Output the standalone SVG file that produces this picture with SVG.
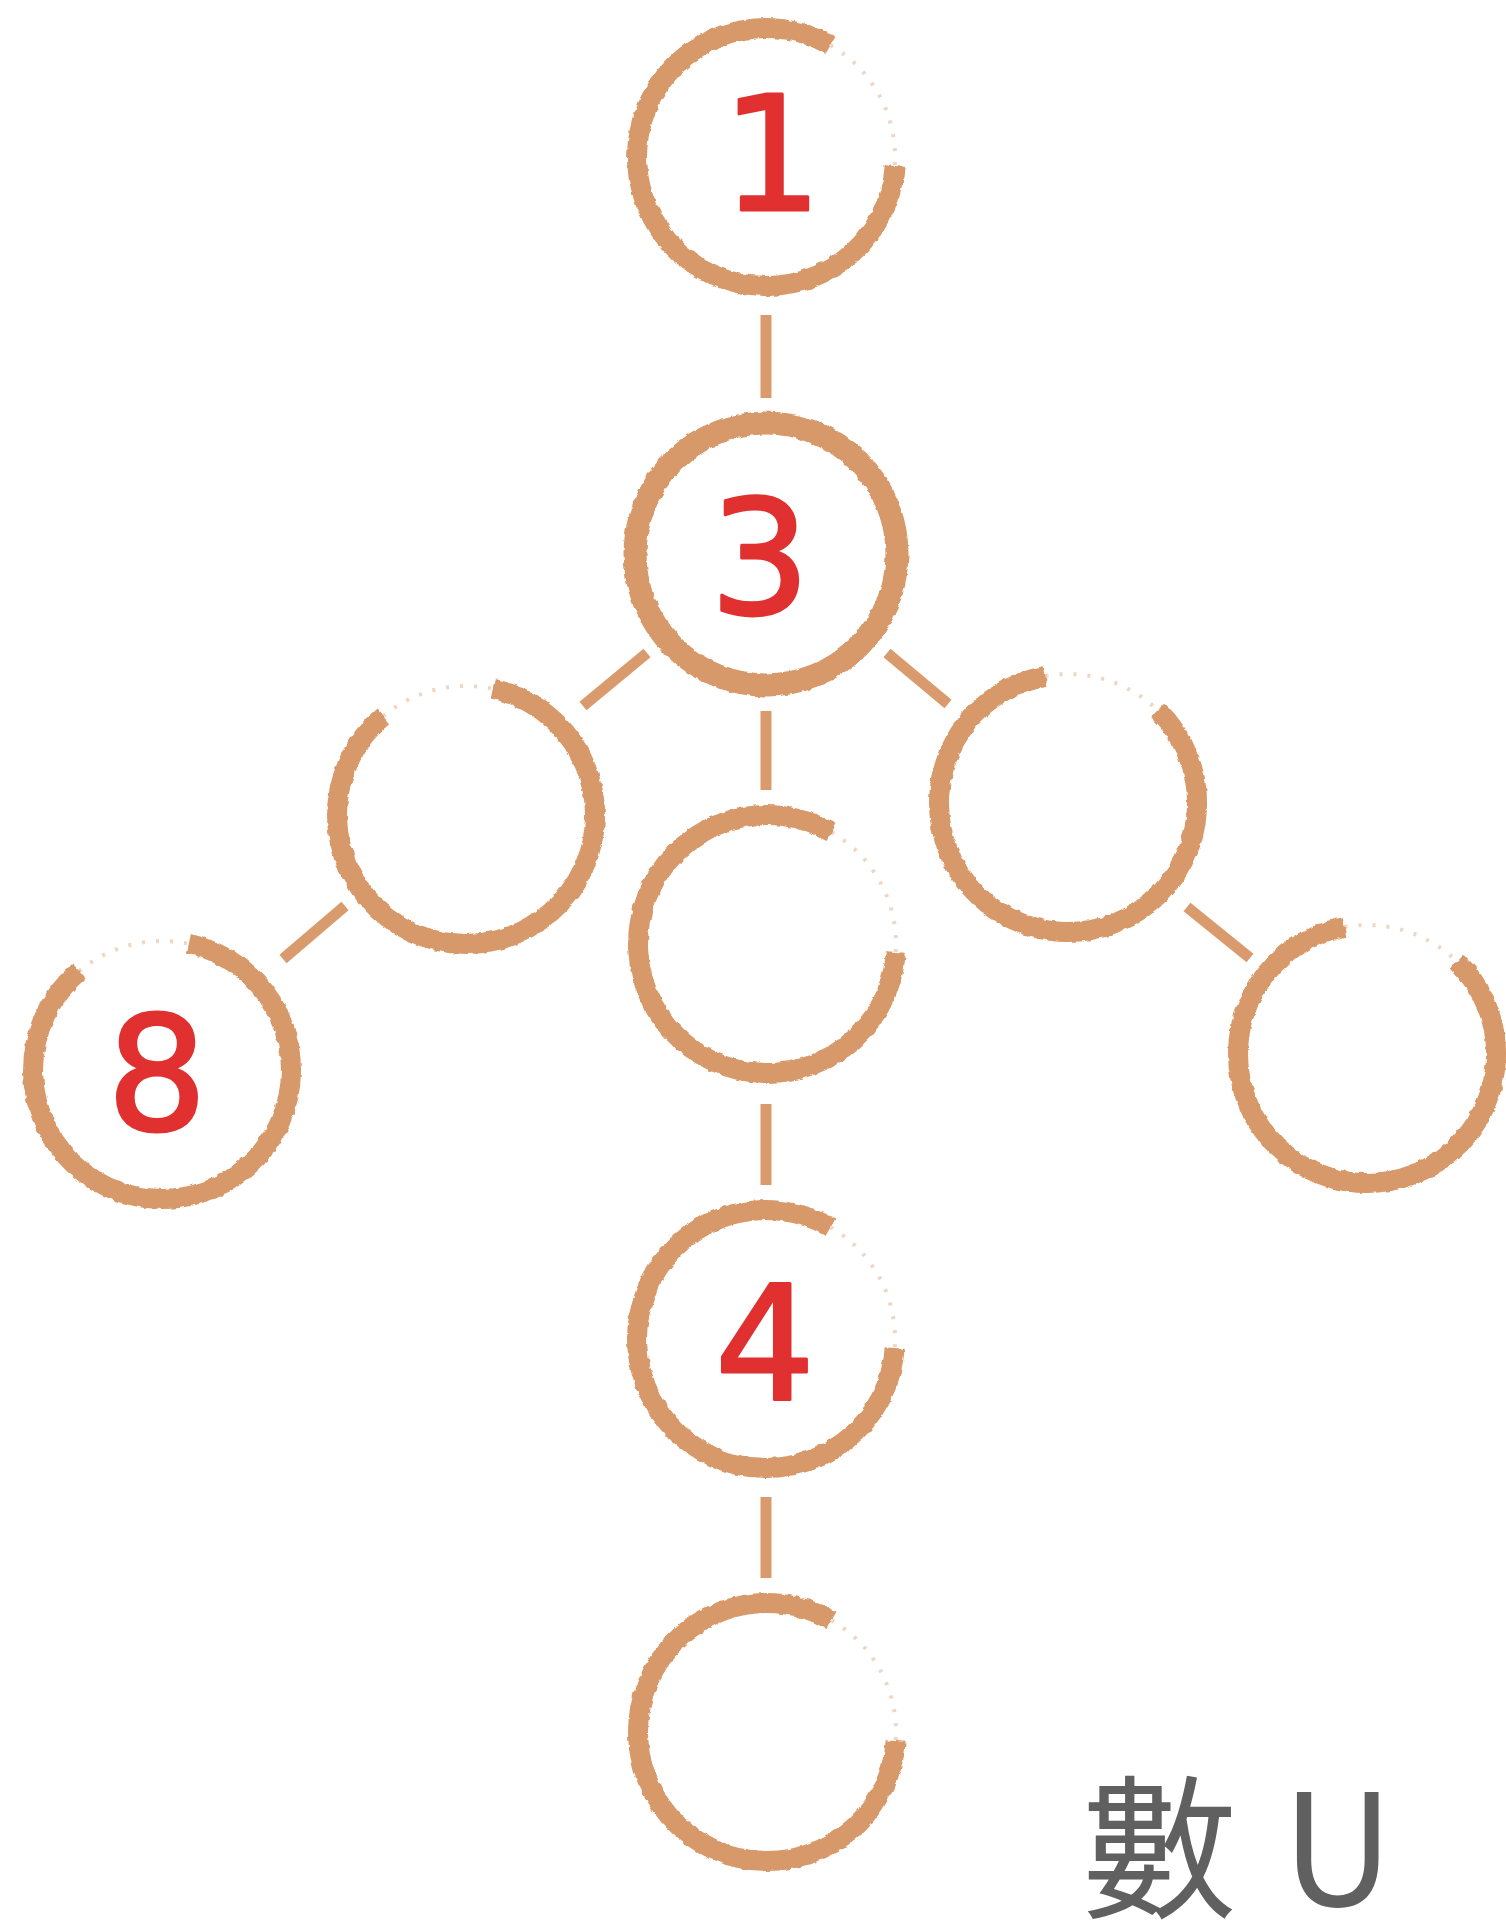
<svg xmlns="http://www.w3.org/2000/svg" width="1506" height="1930" viewBox="0 0 1506 1930">
  <style>
    .ring { fill: none; stroke: #d8996a; stroke-width: 20; stroke-linecap: butt; filter: url(#rough); }
    .ring3 { fill: none; stroke: #d8996a; stroke-width: 23; filter: url(#rough); }
    .speck { fill: none; stroke: #d8996a; stroke-width: 4; stroke-dasharray: 3 11; opacity: 0.4; }
    .link { stroke: #d99b6d; stroke-width: 11; stroke-linecap: butt; fill: none; }
    .num { font-family: "DejaVu Sans", "Liberation Sans", sans-serif; font-size: 158px; fill: #e0302f; stroke: #e0302f; stroke-width: 3; stroke-linejoin: round; text-anchor: middle; }
    .title { font-family: "Noto Sans CJK TC", "Noto Sans CJK SC", sans-serif; font-size: 155px; font-weight: 400; fill: #606060; word-spacing: 10px; }
  </style>
  <defs>
    <filter id="rough" x="-15%" y="-15%" width="130%" height="130%">
      <feTurbulence type="fractalNoise" baseFrequency="0.14" numOctaves="2" seed="11" result="n"/>
      <feDisplacementMap in="SourceGraphic" in2="n" scale="4" xChannelSelector="R" yChannelSelector="G"/>
    </filter>
  </defs>
  <rect x="0" y="0" width="1506" height="1930" fill="#ffffff"/>

  <g id="connectors">
    <line class="link" x1="766" y1="315" x2="766" y2="398"/>
    <line class="link" x1="647" y1="653" x2="583" y2="706"/>
    <line class="link" x1="887" y1="653" x2="948" y2="704"/>
    <line class="link" x1="766" y1="711" x2="766" y2="790"/>
    <line class="link" x1="345" y1="906" x2="283" y2="959"/>
    <line class="link" x1="1187" y1="907" x2="1250" y2="958"/>
    <line class="link" x1="766" y1="1104" x2="766" y2="1185"/>
    <line class="link" x1="766" y1="1497" x2="766" y2="1578"/>
  </g>

  <g id="node-1">
    <path class="ring" d="M 894.7 166 A 129 129 0 1 1 830.5 45.3"/>
    <path class="speck" d="M 830.5 45.3 A 129 129 0 0 1 894.7 166"/>
    <text class="num" x="772" y="210">1</text>
  </g>

  <g id="node-3">
    <circle class="ring3" cx="766" cy="554" r="131"/>
    <text class="num" x="760" y="614">3</text>
  </g>

  <g id="node-left">
    <path class="ring" d="M 492.8 688.8 A 129 129 0 1 1 383.1 716.2"/>
    <path class="speck" d="M 383.1 716.2 A 129 129 0 0 1 492.8 688.8"/>
  </g>

  <g id="node-center">
    <path class="ring" d="M 895.7 953 A 129 129 0 1 1 831.5 832.3"/>
    <path class="speck" d="M 831.5 832.3 A 129 129 0 0 1 895.7 953"/>
  </g>

  <g id="node-right">
    <path class="ring" d="M 1157.6 710.2 A 129 129 0 1 1 1045.6 676"/>
    <path class="speck" d="M 1045.6 676 A 129 129 0 0 1 1157.6 710.2"/>
  </g>

  <g id="node-8">
    <path class="ring" d="M 188.8 943.8 A 129 129 0 1 1 79.1 971.2"/>
    <path class="speck" d="M 79.1 971.2 A 129 129 0 0 1 188.8 943.8"/>
    <text class="num" x="157" y="1130">8</text>
  </g>

  <g id="node-farright">
    <path class="ring" d="M 1456.6 961.2 A 129 129 0 1 1 1344.6 927"/>
    <path class="speck" d="M 1344.6 927 A 129 129 0 0 1 1456.6 961.2"/>
  </g>

  <g id="node-4">
    <path class="ring" d="M 894.7 1348 A 129 129 0 1 1 830.5 1227.3"/>
    <path class="speck" d="M 830.5 1227.3 A 129 129 0 0 1 894.7 1348"/>
    <text class="num" x="765" y="1399">4</text>
  </g>

  <g id="node-bottom">
    <path class="ring" d="M 895.7 1741 A 129 129 0 1 1 831.5 1620.3"/>
    <path class="speck" d="M 831.5 1620.3 A 129 129 0 0 1 895.7 1741"/>
  </g>

  <g id="caption">
    <text class="title" x="1082" y="1906">數 U</text>
  </g>
</svg>
